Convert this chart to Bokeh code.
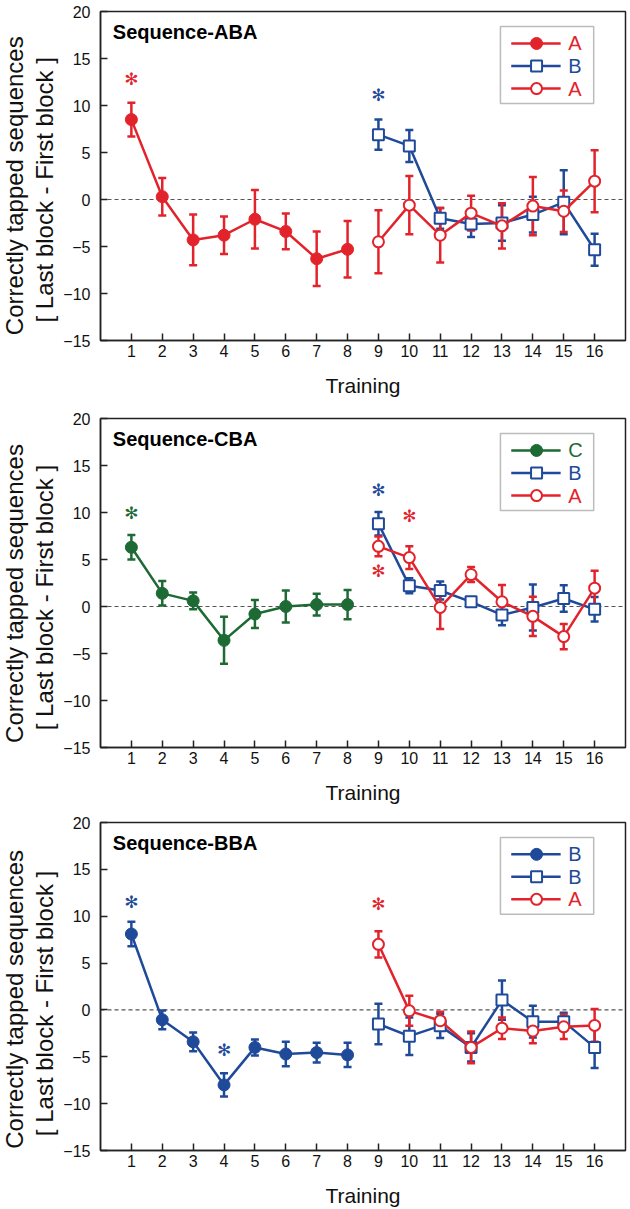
import math
from bokeh.plotting import figure
from bokeh.models import (Range1d, Span, Whisker, ColumnDataSource,
                          FixedTicker, BoxAnnotation, TeeHead, Label)
from bokeh.layouts import column, row
from bokeh.core.properties import value
from bokeh.embed import file_html
from bokeh.resources import INLINE

RED = "#E3232B"
BLUE = "#1F4A9A"
GREEN = "#1E6A35"
FONT = "Liberation Sans"

# ---------------- data ----------------
trials_first = [1, 2, 3, 4, 5, 6, 7, 8]
trials_second = [9, 10, 11, 12, 13, 14, 15, 16]
x_ticks = list(range(1, 17))
y_ticks = [-15, -10, -5, 0, 5, 10, 15, 20]
y_label_lines = ["Correctly tapped sequences", "[ Last block - First block ]"]
x_label = "Training"

# Sequence-ABA
aba_A1 = [8.5, 0.3, -4.3, -3.8, -2.1, -3.4, -6.3, -5.3]
aba_A1_err = [1.8, 2.0, 2.7, 2.0, 3.1, 1.9, 2.9, 3.0]
aba_B = [6.9, 5.7, -2.0, -2.6, -2.5, -1.6, -0.3, -5.35]
aba_B_err = [1.6, 1.7, 1.1, 1.4, 1.9, 1.9, 3.4, 1.7]
aba_A2 = [-4.5, -0.6, -3.8, -1.45, -2.8, -0.7, -1.25, 1.95]
aba_A2_err = [3.35, 3.1, 2.9, 1.85, 2.4, 3.1, 2.2, 3.3]
aba_star_x = [1, 9]
aba_star_y = [12.8, 11.1]
aba_star_c = [RED, BLUE]

# Sequence-CBA
cba_C = [6.3, 1.4, 0.6, -3.6, -0.8, 0.0, 0.2, 0.2]
cba_C_err = [1.3, 1.3, 0.9, 2.5, 1.5, 1.7, 1.15, 1.55]
cba_B = [8.8, 2.2, 1.7, 0.5, -0.9, -0.1, 0.85, -0.3]
cba_B_err = [1.25, 0.8, 0.95, 0.4, 1.1, 2.45, 1.4, 1.3]
cba_A = [6.4, 5.2, -0.1, 3.4, 0.5, -1.05, -3.2, 1.95]
cba_A_err = [1.05, 1.2, 2.3, 0.8, 1.8, 2.1, 1.35, 1.85]
cba_star_x = [1, 9, 10, 9]
cba_star_y = [10.0, 12.4, 9.6, 3.8]
cba_star_c = [GREEN, BLUE, RED, RED]

# Sequence-BBA
bba_B1 = [8.1, -1.05, -3.4, -8.0, -4.0, -4.7, -4.55, -4.8]
bba_B1_err = [1.3, 1.0, 1.0, 1.25, 0.85, 1.3, 1.05, 1.3]
bba_B2 = [-1.5, -2.8, -1.7, -4.0, 1.05, -1.25, -1.25, -4.0]
bba_B2_err = [2.15, 2.0, 1.3, 1.5, 2.1, 1.7, 0.95, 2.2]
bba_A = [7.0, -0.1, -1.15, -4.0, -1.95, -2.25, -1.8, -1.65]
bba_A_err = [1.4, 1.6, 0.95, 1.7, 1.15, 1.3, 1.3, 1.75]
bba_star_x = [1, 4, 9]
bba_star_y = [11.5, -4.3, 11.35]
bba_star_c = [BLUE, BLUE, RED]

# legend layout (data units inside the frame)
LEG_BOX = dict(left=12.95, right=15.97, bottom=10.2, top=18.4)
LEG_ROWS = [16.6, 14.2, 11.8]
LEG_LINE = (13.3, 14.9)
LEG_MARK = 14.12
LEG_TEXT = 15.15

# side strip carrying the two-line y title (pixel layout)
STRIP_W = 60
YLAB_PX = [14, 44]          # horizontal centres of the two lines
YLAB_DY = [204, 209]        # vertical centres below the frame top


def add_series(p, xs, ys, errs, color, marker, filled):
    src = ColumnDataSource(dict(x=xs, y=ys,
                                upper=[a + b for a, b in zip(ys, errs)],
                                lower=[a - b for a, b in zip(ys, errs)]))
    w = Whisker(source=src, base="x", upper="upper", lower="lower",
                line_color=color, line_width=2.5,
                upper_head=TeeHead(size=8, line_color=color, line_width=2.5),
                lower_head=TeeHead(size=8, line_color=color, line_width=2.5))
    p.add_layout(w)
    p.line("x", "y", source=src, line_color=color, line_width=2.5)
    if filled:
        p.scatter("x", "y", source=src, marker=marker, size=12,
                  fill_color=color, line_color=color, line_width=1)
    else:
        p.scatter("x", "y", source=src, marker=marker, size=11,
                  fill_color="white", line_color=color, line_width=2)


def make_strip(height, top):
    s = figure(width=STRIP_W, height=height, x_range=Range1d(0, STRIP_W),
               y_range=Range1d(0, height), output_backend="svg",
               toolbar_location=None, min_border_left=0, min_border_right=0,
               min_border_top=0, min_border_bottom=0)
    s.axis.visible = False
    s.xgrid.visible = False
    s.ygrid.visible = False
    s.outline_line_color = None
    s.background_fill_color = "white"
    s.border_fill_color = "white"
    s.text(x=YLAB_PX, y=[height - top - d for d in YLAB_DY],
           text=y_label_lines, angle=math.pi / 2, text_align="center",
           text_baseline="middle", text_font_size="24px",
           text_font=value(FONT), text_color="#111111")
    return s


def make_panel(title, series, stars, height, top, bottom):
    p = figure(width=630 - STRIP_W, height=height, x_range=Range1d(0, 17),
               y_range=Range1d(-15, 20), output_backend="svg",
               toolbar_location=None, min_border_left=98 - STRIP_W,
               min_border_right=5, min_border_top=top,
               min_border_bottom=bottom)
    p.background_fill_color = "white"
    p.border_fill_color = "white"
    p.xgrid.visible = False
    p.ygrid.visible = False
    p.outline_line_color = "#222222"
    p.outline_line_width = 1.5

    for ax in (p.xaxis[0], p.yaxis[0]):
        ax.major_tick_in = 7
        ax.major_tick_out = 0
        ax.minor_tick_line_color = None
        ax.axis_line_color = "#222222"
        ax.axis_line_width = 1.5
        ax.major_tick_line_color = "#222222"
        ax.major_tick_line_width = 1.5
        ax.major_label_text_font = FONT
        ax.major_label_text_font_size = "16px"
        ax.major_label_text_color = "#111111"

    p.xaxis.ticker = FixedTicker(ticks=x_ticks)
    p.xaxis.major_label_standoff = 4
    p.xaxis.axis_label = x_label
    p.xaxis.axis_label_text_font = FONT
    p.xaxis.axis_label_text_font_style = "normal"
    p.xaxis.axis_label_text_font_size = "21px"
    p.xaxis.axis_label_text_color = "#111111"
    p.xaxis.axis_label_standoff = 14
    p.yaxis.ticker = FixedTicker(ticks=y_ticks)
    p.yaxis.major_label_standoff = 10

    p.add_layout(Span(location=0, dimension="width", line_color="#555555",
                      line_width=1.2, line_dash="4 3", level="underlay"))

    for (xs, ys, errs, color, marker, filled, label) in series:
        add_series(p, xs, ys, errs, color, marker, filled)

    sx, sy, sc = stars
    p.text(x=sx, y=sy, text=["✻"] * len(sx), text_color=sc,
           text_align="center", text_baseline="middle",
           text_font_size="17px", text_font=value("DejaVu Sans"))

    p.add_layout(Label(x=0.4, y=17.8, text=title, text_font=FONT,
                       text_font_style="bold", text_font_size="20px",
                       text_baseline="middle", text_align="left",
                       text_color="#000000"))

    # legend
    p.add_layout(BoxAnnotation(fill_color="white", fill_alpha=1.0,
                               line_color="#222222", line_width=1.5,
                               level="underlay", **LEG_BOX))
    for rw, (xs, ys, errs, color, marker, filled, label) in zip(LEG_ROWS, series):
        p.segment(x0=[LEG_LINE[0]], y0=[rw], x1=[LEG_LINE[1]], y1=[rw],
                  line_color=color, line_width=2.5)
        p.scatter(x=[LEG_MARK], y=[rw], marker=marker,
                  size=12 if filled else 11,
                  fill_color=color if filled else "white",
                  line_color=color, line_width=1 if filled else 2)
        p.text(x=[LEG_TEXT], y=[rw], text=[label], text_color=color,
               text_baseline="middle", text_align="left",
               text_font_size="20px", text_font=value(FONT))
    return row(make_strip(height, top), p, spacing=0)


r1 = make_panel("Sequence-ABA", [
    (trials_first, aba_A1, aba_A1_err, RED, "circle", True, "A"),
    (trials_second, aba_B, aba_B_err, BLUE, "square", False, "B"),
    (trials_second, aba_A2, aba_A2_err, RED, "circle", False, "A"),
], (aba_star_x, aba_star_y, aba_star_c), 406, 11, 66)

r2 = make_panel("Sequence-CBA", [
    (trials_first, cba_C, cba_C_err, GREEN, "circle", True, "C"),
    (trials_second, cba_B, cba_B_err, BLUE, "square", False, "B"),
    (trials_second, cba_A, cba_A_err, RED, "circle", False, "A"),
], (cba_star_x, cba_star_y, cba_star_c), 406, 12, 65)

r3 = make_panel("Sequence-BBA", [
    (trials_first, bba_B1, bba_B1_err, BLUE, "circle", True, "B"),
    (trials_second, bba_B2, bba_B2_err, BLUE, "square", False, "B"),
    (trials_second, bba_A, bba_A_err, RED, "circle", False, "A"),
], (bba_star_x, bba_star_y, bba_star_c), 397, 10, 58)

layout = column(r1, r2, r3, spacing=0)
open("out.html", "w").write(file_html(layout, INLINE))
